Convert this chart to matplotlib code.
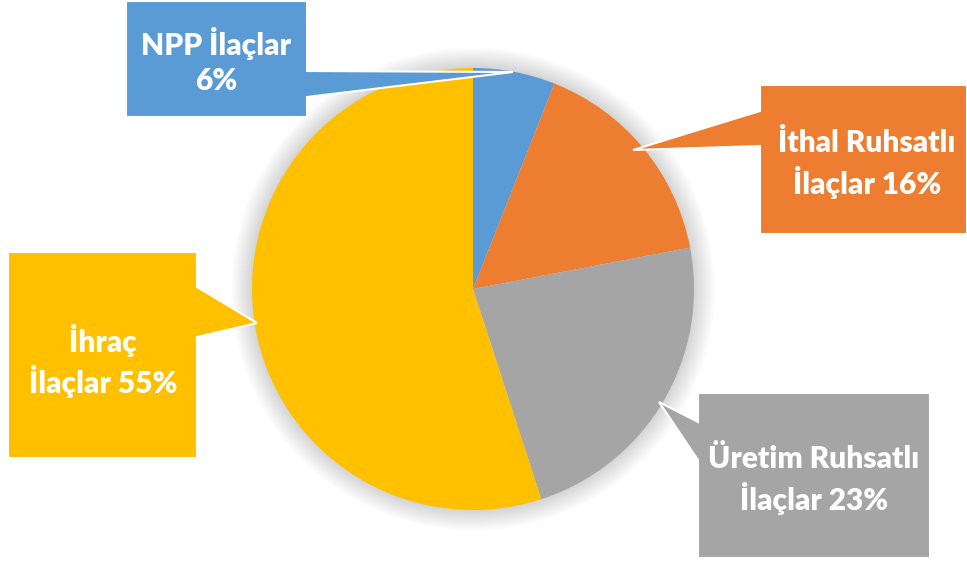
import matplotlib.pyplot as plt
from matplotlib.patches import Polygon, Circle

# Pie data
categories = ["NPP İlaçlar", "İthal Ruhsatlı İlaçlar", "Üretim Ruhsatlı İlaçlar", "İhraç İlaçlar"]
shares = [6, 16, 23, 55]
colors = ["#5B9BD5", "#ED7D31", "#A5A5A5", "#FFC000"]

W, H = 967, 566
CX, CY, R = 473, 289, 221

# callout layout in pixel coords (y down): box outline incl. pointer, text centre, words on first line
callouts = [
    dict(shape=[(126, 1), (307, 1), (307, 71), (513, 72), (307, 97), (307, 117), (126, 117)],
         text_at=(216, 61), split=2),
    dict(shape=[(760, 85), (967, 85), (967, 234), (760, 234), (760, 146), (633, 150), (760, 111)],
         text_at=(867, 164), split=2),
    dict(shape=[(698, 393), (930, 393), (930, 558), (698, 558), (698, 460), (659, 402), (698, 422)],
         text_at=(814, 480), split=2),
    dict(shape=[(8, 252), (197, 252), (197, 287), (257, 323), (197, 337), (197, 458), (8, 458)],
         text_at=(103, 361), split=1),
]

fig = plt.figure(figsize=(W / 100, H / 100), dpi=100)
ax = fig.add_axes([0, 0, 1, 1])

# soft glow around the pie
for k in range(1, 22):
    ax.add_patch(Circle((CX, H - CY), R + k, color="black", alpha=0.007, lw=0, zorder=0))

ax.pie(shares, colors=colors, startangle=90, counterclock=False,
       center=(CX, H - CY), radius=R, wedgeprops=dict(linewidth=0))

for c, cat, val, col in zip(callouts, categories, shares, colors):
    pts = [(x, H - y) for x, y in c["shape"]]
    ax.add_patch(Polygon(pts, closed=True, facecolor=col, edgecolor="white", lw=1.5, zorder=5))
    words = f"{cat} {val}%".split()
    label = " ".join(words[:c["split"]]) + "\n" + " ".join(words[c["split"]:])
    tx, ty = c["text_at"]
    ax.text(tx, H - ty, label, ha="center", va="center", color="white",
            fontsize=21.5, fontweight="heavy", family="Lato", linespacing=1.3, zorder=6)

ax.set_xlim(0, W)
ax.set_ylim(0, H)
ax.set_aspect("equal")
ax.axis("off")

fig.savefig("out.png", dpi=100)
